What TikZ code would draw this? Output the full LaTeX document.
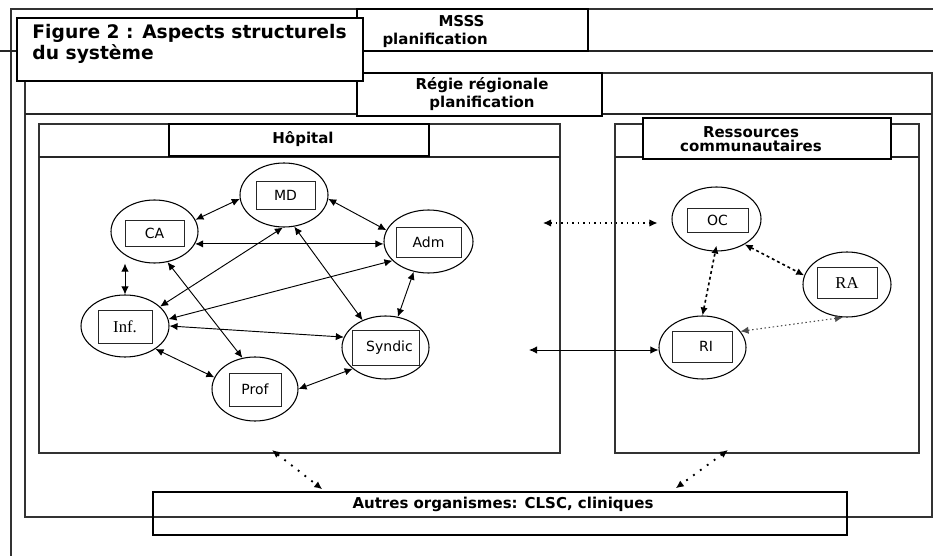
\documentclass[tikz,border=0pt]{standalone}
\usepackage{fontspec}
\setmainfont{DejaVu Sans}
\newfontfamily\timesfont{Liberation Serif}
\usetikzlibrary{shapes.geometric,arrows.meta,calc}

\tikzset{every picture/.style={line width=0.75pt},
  frame/.style={draw=black!80, line width=0.8pt},
  headline/.style={draw=black!85, line width=1.1pt},
  titlebox/.style={draw, fill=white, line width=1.1pt, inner sep=0pt},
  titletext/.style={inner sep=0pt, align=center, font=\bfseries\fontsize{11.25}{13.5}\selectfont},
  actor/.style={draw, ellipse, line width=0.8pt, inner sep=0pt},
  tag/.style={draw=black!85, line width=0.6pt, inner sep=0pt, font=\fontsize{10.5}{12}\selectfont},
  link/.style={{Latex[length=6pt,width=5.5pt]}-{Latex[length=6pt,width=5.5pt]}, line width=0.7pt},
  dotlink/.style={link, line width=0.9pt, dash pattern=on 1.1pt off 3pt},
  dashlink/.style={link, line width=1.2pt, dash pattern=on 2.2pt off 2.2pt},
  greylink/.style={link, draw=black!70, line width=0.8pt, dash pattern=on 1.1pt off 2pt},
  bigdots/.style={link, line width=1.4pt, dash pattern=on 1.4pt off 5pt}
}

\begin{document}
\begin{tikzpicture}[x=0.75pt,y=0.75pt,yscale=-1, xscale=1]
\useasboundingbox (0,0) rectangle (933,556);

% MSSS level
\draw[frame] (11,556) -- (11,9) -- (933,9);
\draw[headline] (0,51) -- (933,51);
\node[titlebox, minimum width=173.25pt, minimum height=31.5pt] (msssbox) at (472.5,30) {};
\node[titletext, anchor=west, align=left] (mssstxt) at (382,31.5) {\hspace*{42pt}MSSS\\planification};

% Regie level
\draw[frame] (25,73) rectangle (932,517);
\draw[headline] (25,114) -- (932,114);
\node[titlebox, minimum width=183.75pt, minimum height=32.25pt] (regbox) at (479.5,94.5) {};
\node[titletext] (regtxt) at (482,94) {Régie régionale\\planification};

% Figure title
\node[titlebox, line width=0.8pt, minimum width=259.5pt, minimum height=47.25pt] (figbox) at (190,49.5) {};
\node[anchor=west, align=left, inner sep=0pt, font=\bfseries\fontsize{14}{15.75}\selectfont] (figtxt) at (32,43.5) {Figure 2 : Aspects structurels\\du système};

% Hopital
\draw[frame] (39,124) rectangle (560,453);
\draw[headline] (39,157) -- (560,157);
\node[titlebox, line width=0.9pt, minimum width=195pt, minimum height=24pt] (hopbox) at (299,140) {};
\node[titletext] (hoptxt) at (303,139) {Hôpital};

% Ressources communautaires
\draw[frame] (615,124) rectangle (919,453);
\draw[headline] (615,157) -- (919,157);
\node[titlebox, minimum width=186pt, minimum height=30.75pt] (resbox) at (767,138.5) {};
\node[titletext] (restxt) at (751,139) {Ressources\\[-2.5pt]communautaires};

% Autres organismes
\node[draw, line width=1.1pt, minimum width=520.5pt, minimum height=32.25pt, inner sep=0pt] (autbox) at (500,513.5) {};
\node[titletext] (auttxt) at (503,504) {Autres organismes: CLSC, cliniques};

% Actors of the hospital
\node[actor, minimum width=66pt, minimum height=48pt] (md) at (284,195) {};
\node[tag, minimum width=44.25pt, minimum height=21pt] (mdtag) at (285.5,195) {MD};
\node[actor, minimum width=65.25pt, minimum height=47.25pt] (ca) at (154.5,231.5) {};
\node[tag, minimum width=44.25pt, minimum height=19.5pt] (catag) at (154.5,233) {CA};
\node[actor, minimum width=66.75pt, minimum height=47.25pt] (adm) at (428.5,241.5) {};
\node[tag, minimum width=48.75pt, minimum height=22.5pt] (admtag) at (428.5,242) {Adm};
\node[actor, minimum width=66pt, minimum height=46.5pt] (inf) at (125,326) {};
\node[tag, minimum width=40.5pt, minimum height=24.75pt, font=\timesfont\fontsize{12.5}{14}\selectfont] (inftag) at (125,326.5) {Inf.};
\node[actor, minimum width=65.25pt, minimum height=47.25pt] (syn) at (385.5,347.5) {};
\node[tag, minimum width=50.25pt, minimum height=26.25pt] (syntag) at (385.5,347.5) {\hspace*{6pt}Syndic};
\node[actor, minimum width=64.5pt, minimum height=48pt] (prof) at (255,389) {};
\node[tag, minimum width=39pt, minimum height=24.75pt] (proftag) at (255,389.5) {Prof};

% Community actors
\node[actor, minimum width=66.75pt, minimum height=48pt] (oc) at (716.5,219) {};
\node[tag, minimum width=45.75pt, minimum height=18pt] (octag) at (717.5,220) {OC};
\node[actor, minimum width=66pt, minimum height=48.75pt] (ra) at (847,284.5) {};
\node[tag, minimum width=45pt, minimum height=23.25pt, font=\timesfont\fontsize{12.5}{14}\selectfont] (ratag) at (847,282.5) {RA};
\node[actor, minimum width=65.25pt, minimum height=47.25pt] (ri) at (702.5,347.5) {};
\node[tag, minimum width=45pt, minimum height=23.25pt] (ritag) at (702,346.5) {\hspace*{6pt}RI};

% free ends
\coordinate (hopR) at (543,223);
\coordinate (hopRI) at (529,350);
\coordinate (hopS) at (272,450);
\coordinate (resS) at (728,450);

% links inside the hospital
\draw[link] (ca.16) -- (md.185);
\draw[link] (md.355) -- (adm.165);
\draw[link] (ca.-17) -- (ca.-17 -| adm.west);
\draw[link] (inf.north |- ca.south) -- (inf.north);
\draw[link] (md.268) -- (inf.29);
\draw[link] (md.288) -- (syn.130);
\draw[link] (adm.208) -- (inf.9);
\draw[link] (adm.244) -- (syn.68);
\draw[link] (ca.293) -- (prof.112);
\draw[link] (inf.0) -- (syn.166);
\draw[link] (inf.323) -- (prof.164);
\draw[link] (prof.0) -- (syn.213);

% links with the community
\draw[dotlink, shorten >=10.5pt] (hopR) -- (hopR -| oc.west);
\draw[link] (hopRI) -- (hopRI -| ri.west);
\draw[dashlink] (ri.north) -- ([yshift=-4.5pt]oc.south);
\draw[dashlink] (oc.318) -- (ra.168);
\draw[greylink] (ra.263) -- (ri.23);

% links with other organisations
\draw[bigdots] (hopS) -- ($(autbox.north west)+(170,-2)$);
\draw[bigdots] (resS) -- ($(autbox.north east)+(-172,-3)$);
\end{tikzpicture}
\end{document}
